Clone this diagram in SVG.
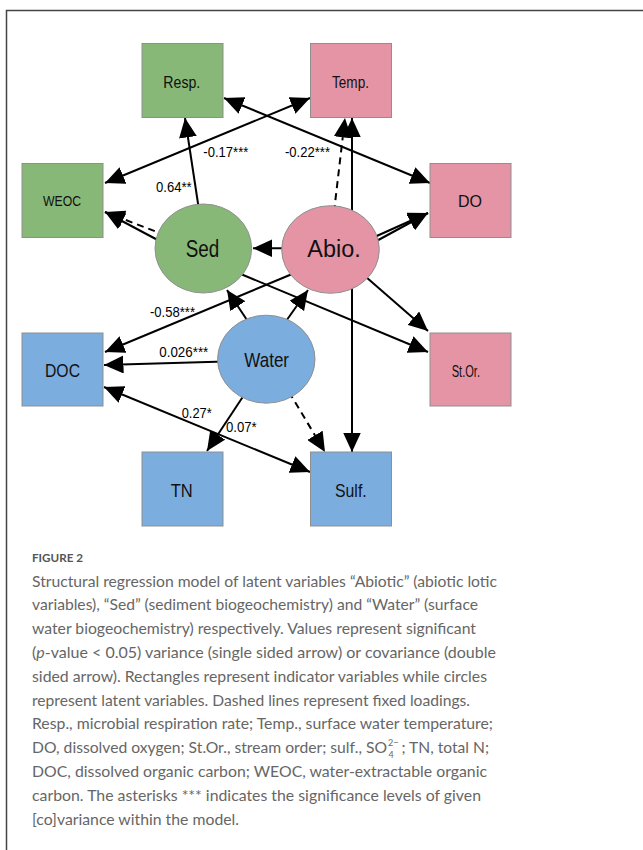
<svg xmlns="http://www.w3.org/2000/svg" width="643" height="850" viewBox="0 0 643 850">
<style>
.bg{fill:#fff}
.frame{fill:none;stroke:#444;stroke-width:1.5}
.box{stroke:#8f8f8f;stroke-width:1}
.g{fill:#88b877}.p{fill:#e494a5}.b{fill:#7badde}
.lbl{font-family:"Liberation Sans",Arial,sans-serif;fill:#111}
.e{stroke:#000;stroke-width:2;fill:none}
.d{stroke-dasharray:7 5}
.el{font-family:"Liberation Sans",Arial,sans-serif;font-size:15px;fill:#000}
.cap{font-family:Lato,"Open Sans",sans-serif;font-size:15px;fill:#666}
.fig{font-family:Lato,"Open Sans",sans-serif;font-size:12px;font-weight:bold;fill:#555}
</style>
<defs>
<marker id="ah" markerUnits="userSpaceOnUse" markerWidth="20" markerHeight="18" viewBox="0 0 19 17" refX="18.5" refY="8.5" orient="auto-start-reverse">
<path d="M0,0 L18.5,8.5 L0,17 z" fill="#000"/>
</marker>
</defs>
<rect class="bg" x="0" y="0" width="643" height="850"/>
<path class="frame" d="M643,10.5 H6.5 V850"/>
<g id="connectors">
<line class="e" x1="310" y1="98" x2="105" y2="183" marker-start="url(#ah)" marker-end="url(#ah)"/>
<line class="e" x1="224" y1="98" x2="430" y2="183" marker-start="url(#ah)" marker-end="url(#ah)"/>
<line class="e" x1="199" y1="210" x2="185" y2="118" marker-end="url(#ah)"/>
<line class="e" x1="168" y1="245.5" x2="105" y2="212" marker-end="url(#ah)"/>
<line class="e d" x1="166" y1="235.5" x2="105" y2="212" marker-end="url(#ah)"/>
<line class="e d" x1="334" y1="212" x2="345" y2="118" marker-end="url(#ah)"/>
<line class="e" x1="352" y1="118" x2="352" y2="452" marker-start="url(#ah)" marker-end="url(#ah)"/>
<line class="e" x1="290" y1="248.3" x2="253" y2="248.3" marker-end="url(#ah)"/>
<line class="e" x1="370" y1="239" x2="428" y2="213" marker-end="url(#ah)"/>
<line class="e" x1="371" y1="244" x2="428" y2="213" marker-end="url(#ah)"/>
<line class="e" x1="362" y1="273.5" x2="428" y2="331" marker-end="url(#ah)"/>
<line class="e" x1="236" y1="272" x2="428" y2="352" marker-end="url(#ah)"/>
<line class="e" x1="297" y1="272" x2="105" y2="352" marker-end="url(#ah)"/>
<line class="e" x1="249" y1="323" x2="227" y2="290" marker-end="url(#ah)"/>
<line class="e" x1="284" y1="324" x2="308" y2="290" marker-end="url(#ah)"/>
<line class="e" x1="225" y1="361.6" x2="104" y2="365" marker-end="url(#ah)"/>
<line class="e" x1="104" y1="387" x2="310" y2="472" marker-start="url(#ah)" marker-end="url(#ah)"/>
<line class="e" x1="246" y1="392" x2="207" y2="451" marker-end="url(#ah)"/>
<line class="e d" x1="289" y1="392" x2="325" y2="452" marker-end="url(#ah)"/>
<text class="el" x="203.3" y="156.7" textLength="45" lengthAdjust="spacingAndGlyphs">-0.17***</text>
<text class="el" x="285" y="156.7" textLength="45" lengthAdjust="spacingAndGlyphs">-0.22***</text>
<text class="el" x="156" y="192" textLength="35.7" lengthAdjust="spacingAndGlyphs">0.64**</text>
<text class="el" x="150" y="316.7" textLength="45" lengthAdjust="spacingAndGlyphs">-0.58***</text>
<text class="el" x="159.3" y="356.7" textLength="49" lengthAdjust="spacingAndGlyphs">0.026***</text>
<text class="el" x="181.7" y="418.3" textLength="30" lengthAdjust="spacingAndGlyphs">0.27*</text>
<text class="el" x="226" y="432.3" textLength="30.7" lengthAdjust="spacingAndGlyphs">0.07*</text>
</g>
<g id="node-resp"><rect class="box g" x="142" y="43.5" width="81" height="74"/><text class="lbl" x="163.3" y="88" font-size="17" textLength="37" lengthAdjust="spacingAndGlyphs">Resp.</text></g>
<g id="node-temp"><rect class="box p" x="310.5" y="43.5" width="81" height="74"/><text class="lbl" x="332" y="87.5" font-size="16" textLength="37" lengthAdjust="spacingAndGlyphs">Temp.</text></g>
<g id="node-weoc"><rect class="box g" x="22" y="163.5" width="81" height="74"/><text class="lbl" x="43" y="206" font-size="14.5" textLength="38" lengthAdjust="spacingAndGlyphs">WEOC</text></g>
<g id="node-do"><rect class="box p" x="430" y="163.5" width="81" height="74"/><text class="lbl" x="458" y="207.3" font-size="17" textLength="24" lengthAdjust="spacingAndGlyphs">DO</text></g>
<g id="node-doc"><rect class="box b" x="22" y="333" width="81" height="73"/><text class="lbl" x="45" y="377.3" font-size="18" textLength="35" lengthAdjust="spacingAndGlyphs">DOC</text></g>
<g id="node-stor"><rect class="box p" x="430" y="333" width="81" height="73"/><text class="lbl" x="451.7" y="376.7" font-size="16" textLength="28.3" lengthAdjust="spacingAndGlyphs">St.Or.</text></g>
<g id="node-tn"><rect class="box b" x="142" y="452" width="81" height="74"/><text class="lbl" x="170.7" y="496.7" font-size="18" textLength="22" lengthAdjust="spacingAndGlyphs">TN</text></g>
<g id="node-sulf"><rect class="box b" x="310.5" y="452" width="81" height="74"/><text class="lbl" x="335" y="496.7" font-size="18" textLength="31.7" lengthAdjust="spacingAndGlyphs">Sulf.</text></g>
<g id="node-sed"><ellipse class="box g" cx="203.3" cy="248.5" rx="48.3" ry="44.5"/><text class="lbl" x="185.7" y="256.7" font-size="23" textLength="33.6" lengthAdjust="spacingAndGlyphs">Sed</text></g>
<g id="node-abio"><ellipse class="box p" cx="330.5" cy="249.5" rx="48.8" ry="43.8"/><text class="lbl" x="307.3" y="256.7" font-size="23" textLength="53.4" lengthAdjust="spacingAndGlyphs">Abio.</text></g>
<g id="node-water"><ellipse class="box b" cx="266.3" cy="359.2" rx="48.7" ry="44"/><text class="lbl" x="244.3" y="366.7" font-size="21" textLength="44.7" lengthAdjust="spacingAndGlyphs">Water</text></g>
<g id="caption">
<text class="fig" x="32" y="562" textLength="51" lengthAdjust="spacingAndGlyphs">FIGURE 2</text>
<text class="cap" x="32" y="586.5" textLength="465" lengthAdjust="spacingAndGlyphs">Structural regression model of latent variables “Abiotic” (abiotic lotic</text>
<text class="cap" x="32" y="610.3" textLength="446" lengthAdjust="spacingAndGlyphs">variables), “Sed” (sediment biogeochemistry) and “Water” (surface</text>
<text class="cap" x="32" y="634.1" textLength="444" lengthAdjust="spacingAndGlyphs">water biogeochemistry) respectively. Values represent significant</text>
<text class="cap" x="32" y="657.9" textLength="464" lengthAdjust="spacingAndGlyphs">(<tspan font-style="italic">p</tspan>-value &lt; 0.05) variance (single sided arrow) or covariance (double</text>
<text class="cap" x="32" y="681.7" textLength="455" lengthAdjust="spacingAndGlyphs">sided arrow). Rectangles represent indicator variables while circles</text>
<text class="cap" x="32" y="705.5" textLength="438" lengthAdjust="spacingAndGlyphs">represent latent variables. Dashed lines represent fixed loadings.</text>
<text class="cap" x="32" y="729.3" textLength="461" lengthAdjust="spacingAndGlyphs">Resp., microbial respiration rate; Temp., surface water temperature;</text>
<text class="cap"><tspan x="32" y="753.1" textLength="355" lengthAdjust="spacingAndGlyphs">DO, dissolved oxygen; St.Or., stream order; sulf., SO</tspan><tspan x="388" y="746" font-size="9">2−</tspan><tspan x="388.5" y="758" font-size="9">4</tspan><tspan x="401.5" y="753.1" textLength="87.5" lengthAdjust="spacingAndGlyphs">; TN, total N;</tspan></text>
<text class="cap" x="32" y="776.9" textLength="455" lengthAdjust="spacingAndGlyphs">DOC, dissolved organic carbon; WEOC, water-extractable organic</text>
<text class="cap" x="32" y="800.7" textLength="449" lengthAdjust="spacingAndGlyphs">carbon. The asterisks *** indicates the significance levels of given</text>
<text class="cap" x="32" y="824.5" textLength="207" lengthAdjust="spacingAndGlyphs">[co]variance within the model.</text>
</g>
</svg>
